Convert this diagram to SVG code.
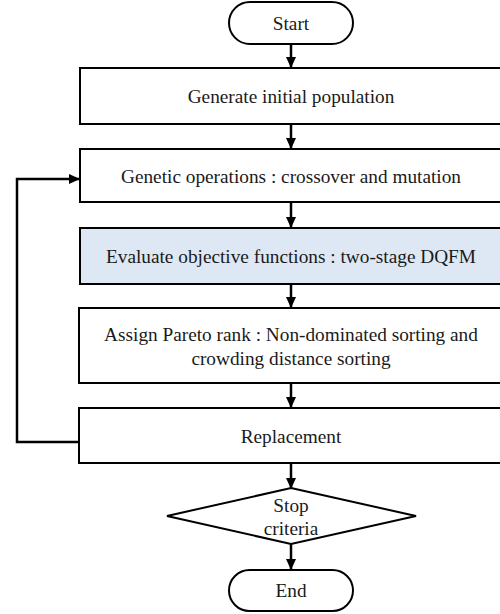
<svg xmlns="http://www.w3.org/2000/svg" width="500" height="614" viewBox="0 0 500 614">
<defs>
<marker id="ah" markerWidth="11" markerHeight="10" refX="10" refY="5" orient="auto" markerUnits="userSpaceOnUse">
<path d="M0,0 L11,5 L0,10 Z" fill="#000"/>
</marker>
<style>
.box{fill:#fff;stroke:#000;stroke-width:2}
.blue{fill:#dde8f4}
.c{fill:none;stroke:#000;stroke-width:2.5}
.t{font-family:'Liberation Serif','Times New Roman',serif;font-size:19.3px;fill:#1a1a1a;text-anchor:middle}
</style>
</defs>
<rect width="500" height="614" fill="#fff"/>
<g id="connectors">
<line class="c" x1="291" y1="44" x2="291" y2="67" marker-end="url(#ah)"/>
<line class="c" x1="291" y1="124" x2="291" y2="148" marker-end="url(#ah)"/>
<line class="c" x1="291" y1="202" x2="291" y2="227" marker-end="url(#ah)"/>
<line class="c" x1="291" y1="284" x2="291" y2="307" marker-end="url(#ah)"/>
<line class="c" x1="291" y1="383" x2="291" y2="407" marker-end="url(#ah)"/>
<line class="c" x1="291" y1="463" x2="291" y2="488" marker-end="url(#ah)"/>
<line class="c" x1="291" y1="544" x2="291" y2="569" marker-end="url(#ah)"/>
<polyline class="c" points="80,442 17,442 17,179 79,179" marker-end="url(#ah)"/>
</g>
<g id="start">
<rect class="box" x="229" y="2" width="124" height="42" rx="21"/>
<text class="t" x="291" y="30">Start</text>
</g>
<g id="init">
<rect class="box" x="80" y="68" width="424" height="56"/>
<text class="t" x="291" y="103">Generate initial population</text>
</g>
<g id="genetic">
<rect class="box" x="80" y="149" width="424" height="53"/>
<text class="t" x="291" y="183">Genetic operations : crossover and mutation</text>
</g>
<g id="evaluate">
<rect class="box blue" x="80" y="228" width="424" height="56"/>
<text class="t" x="291" y="263">Evaluate objective functions : two-stage DQFM</text>
</g>
<g id="rank">
<rect class="box" x="79" y="308" width="425" height="75"/>
<text class="t" x="291" y="341">Assign Pareto rank : Non-dominated sorting and</text>
<text class="t" x="291" y="365">crowding distance sorting</text>
</g>
<g id="replacement">
<rect class="box" x="79" y="408" width="425" height="55"/>
<text class="t" x="291" y="443">Replacement</text>
</g>
<g id="stop">
<polygon class="box" points="291,488 416,516 291,544 167,516"/>
<text class="t" x="291" y="512">Stop</text>
<text class="t" x="291" y="535">criteria</text>
</g>
<g id="end">
<rect class="box" x="229" y="570" width="124" height="41" rx="20.5"/>
<text class="t" x="291" y="597">End</text>
</g>
</svg>
